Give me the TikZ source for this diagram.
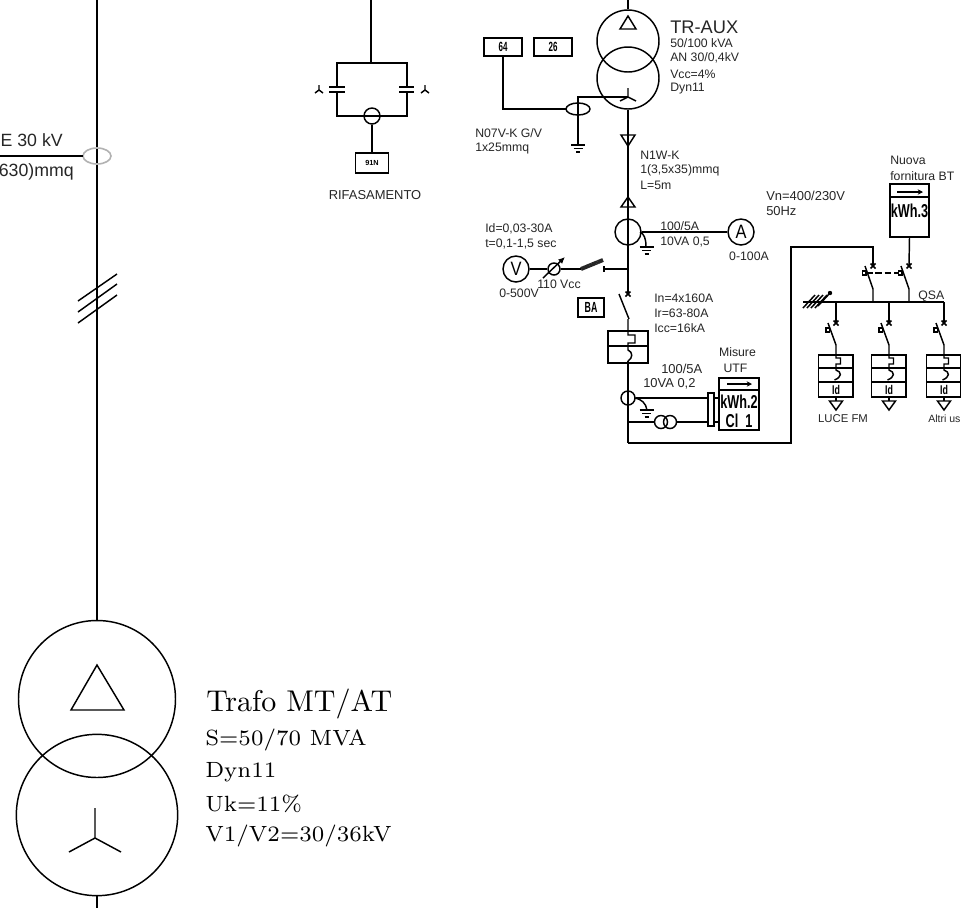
\documentclass[tikz,border=0pt]{standalone}
\usepackage{fontspec}
\usepackage{graphicx}
\newfontfamily\ars{Liberation Sans}
\usetikzlibrary{arrows.meta}
\tikzset{
  ln/.style={draw=black,line width=1.1pt},
  lbl/.style={inner sep=0pt,anchor=west,text=black!85,font=\ars\fontsize{9.2}{11}\selectfont},
  lblc/.style={inner sep=0pt,anchor=center,text=black!85,font=\ars\fontsize{9.2}{11}\selectfont},
  lblb/.style={lbl,font=\ars\fontsize{9.7}{11}\selectfont},
  big/.style={inner sep=0pt,anchor=west,font=\ars\fontsize{13.3}{15}\selectfont,text=black!85},
  ser/.style={inner sep=0pt,anchor=west},
  relay/.style={inner sep=0pt,font=\ars\bfseries\fontsize{10}{11}\selectfont},
  meter/.style={inner sep=0pt,font=\ars\bfseries\fontsize{14}{16}\selectfont},
  xmark/.style={draw=black,line width=1.2pt},
  ring/.style={circle,draw,line width=1.1pt,inner sep=0pt},
  boxy/.style={draw,line width=1.1pt,inner sep=0pt},
}
\newcommand{\narrowtxt}[1]{\scalebox{0.6}[1]{#1}}
\newcommand{\widetxt}[1]{\scalebox{0.68}[1]{#1}}
\newcommand{\serbody}[1]{\scalebox{2.36}{\fontsize{7}{8}\selectfont #1}}
\newcommand{\sertitle}[1]{\scalebox{2.25}{\fontsize{10}{12}\selectfont #1}}
\newcommand{\gnd}[2]{%
  \draw[ln] (#1-7,#2) -- (#1+7,#2);
  \draw[ln] (#1-4.5,#2+3.5) -- (#1+4.5,#2+3.5);
  \draw[ln] (#1-2,#2+7) -- (#1+2,#2+7);
}
\newcommand{\branch}[2]{%
  \coordinate (#2top) at (#1,302);
  \coordinate (#2cr) at (#1,323);
  \coordinate (#2bl) at (#1-8,323);
  \coordinate (#2mid) at (#1,345);
  \draw[ln] (#2top) -- (#2cr);
  \draw[xmark] (#1-2.5,320.5) -- (#1+2.5,325.5) (#1+2.5,320.5) -- (#1-2.5,325.5);
  \draw[ln] (#2bl) -- (#2mid) -- (#1,358) -- (#1+4.5,358) -- (#1+4.5,364) -- (#1,364) -- (#1,370)
     .. controls (#1+6,372) and (#1+6,377) .. (#1-1.5,380);
  \draw[ln,fill=white] (#1-10,328) rectangle (#1-6.5,332);
  \draw[ln] (#1-17.5,355) rectangle (#1+17,397);
  \draw[ln] (#1-17.5,368) -- (#1+17,368) (#1-17.5,382) -- (#1+17,382);
  \node[relay,font=\ars\bfseries\fontsize{9.5}{10}\selectfont] (#2id) at (#1,390) {\scalebox{0.7}[1]{Id}};
  \draw[ln] (#1,397) -- (#1,401);
  \draw[ln] (#1-6.5,401) -- (#1+6.5,401) -- (#1,410) -- cycle;
}
\begin{document}
\begin{tikzpicture}[x=0.75pt,y=-0.75pt]
\useasboundingbox (0,0) rectangle (961,908);
\clip (0,0) rectangle (961,908);
\fill[white] (0,0) rectangle (961,908);

% ===== main MT/AT column
\node[ring,minimum size=117.75pt] (T1) at (97,699) {};
\node[ring,minimum size=121pt] (T2) at (97,815) {};
\coordinate (topL) at (97,0);
\coordinate (botL) at (97,908);
\draw[ln] (topL) -- (T1.north);
\draw[ln] (T2.south) -- (botL);
\draw[ln] (97,665) -- (71,710) -- (124,710) -- cycle;
\draw[ln] (95,838) -- (95,808) (95,838) -- (69,852) (95,838) -- (121,852);
\draw[draw=black!30,line width=1.2pt] (97,156) ellipse (14 and 8);
\coordinate (cabL) at (0,156);
\draw[ln] (cabL) -- (83,156);
\node[big,anchor=east] (c1) at (63,140) {E 30 kV};
\node[big,anchor=east] (c2) at (74,172) {630)mmq};
\draw[ln] (78,301) -- (117,274) (78,312) -- (117,284) (78,323) -- (117,295);

\node[ser] (t1) at (206,704) {\sertitle{Trafo MT/AT}};
\node[ser] (t2) at (205,740) {\serbody{S=50/70 MVA}};
\node[ser] (t3) at (205,772) {\serbody{Dyn11}};
\node[ser] (t4) at (205,804) {\serbody{Uk=11\%}};
\node[ser] (t5) at (205,836) {\serbody{V1/V2=30/36kV}};

% ===== Rifasamento
\coordinate (rt) at (371,0);
\coordinate (rj) at (371,63);
\draw[ln] (rt) -- (rj);
\draw[ln] (337,87) -- (337,63) -- (407,63) -- (407,87);
\draw[ln] (337,92) -- (337,116) -- (364,116);
\draw[ln] (407,92) -- (407,116) -- (380,116);
\draw[ln] (329,87) -- (345,87) (329,92) -- (345,92);
\draw[ln] (399,87) -- (414,87) (399,92) -- (414,92);
\node[ring,minimum size=12pt] (rc) at (372,116) {};
\draw[ln] (rc.west) -- (rc.east);
\node[boxy,minimum width=24.75pt,minimum height=15pt,relay,font=\ars\bfseries\fontsize{5.5}{6}\selectfont] (n91) at (372,163) {91N};
\draw[ln] (rc.south) -- (n91.north);
\draw[ln] (319,85) -- (319,90) -- (315,93) (319,90) -- (323,93);
\draw[ln] (425,85) -- (425,90) -- (421,93) (425,90) -- (429,93);
\node[lblc,font=\ars\fontsize{9.7}{11}\selectfont] (rif) at (375,195) {RIFASAMENTO};

% ===== TR-AUX
\node[ring,minimum size=46.5pt] (A1) at (628,41) {};
\node[ring,minimum size=46.5pt] (A2) at (628,78) {};
\coordinate (at) at (628,0);
\draw[ln] (at) -- (A1.north);
\draw[ln] (628,16) -- (620,29) -- (636,29) -- cycle;
\coordinate (star) at (628,97);
\draw[ln] (628,88) -- (star) (620,101) -- (star) -- (636,101);
\draw[ln] (star) -- (578,97) -- (578,145);
\gnd{578}{145}
\draw[ln] (578,109) ellipse (12 and 6);
\node[boxy,minimum width=28.5pt,minimum height=13.5pt,relay] (r64) at (503,47) {\narrowtxt{64}};
\node[boxy,minimum width=28.5pt,minimum height=13.5pt,relay] (r26) at (553,47) {\narrowtxt{26}};
\draw[ln] (r64.south) -- (503,109) -- (566,109);
\node[big,font=\ars\fontsize{13.7}{15}\selectfont] (tra) at (670,27) {TR-AUX};
\node[lbl] at (670,43) {50/100 kVA};
\node[lbl] at (670,58) {AN 30/0,4kV};
\node[lbl] at (670,74) {Vcc=4\%};
\node[lbl] at (670,89) {Dyn11};
\node[lbl] at (475,133) {N07V-K G/V};
\node[lbl] at (475,148) {1x25mmq};
\node[lbl] at (640,155) {N1W-K};
\node[lbl] at (640,170) {1(3,5x35)mmq};
\node[lbl] at (640,185) {L=5m};

% main vertical
\draw[ln] (A2.south) -- (628,294);
\draw[ln] (621,135) -- (635,135) -- (628,146) -- cycle;
\draw[ln] (621,207) -- (635,207) -- (628,197) -- cycle;

% CT 1
\node[ring,minimum size=19.5pt] (ct1) at (628,232) {};
\node[ring,minimum size=19.5pt,font=\ars\fontsize{14.5}{15}\selectfont] (amp) at (741,232) {\scalebox{0.85}[1]{A}};
\draw[ln] (ct1.east) -- (amp.west);
\draw[ln] (640,232) .. controls (644,234) and (646,238) .. (646,247);
\gnd{646.5}{247}
\node[lbl] at (660,226) {100/5A};
\node[lbl] at (660,242) {10VA 0,5};
\node[lblc] at (749,256) {0-100A};

% voltmeter branch
\node[ring,minimum size=19.5pt,font=\ars\fontsize{14.5}{15}\selectfont] (vm) at (516,269) {\scalebox{0.85}[1]{V}};
\node[ring,minimum size=9pt] (sw) at (554,269) {};
\draw[ln] (vm.east) -- (sw.west);
\draw[ln] (sw.east) -- (581,269);
\draw[line width=1.1pt,-{Latex[length=5pt,width=4.5pt]}] (543,278) -- (565,257);
\draw[line width=3pt,draw=black!85,dash pattern=on 1.5pt off .25pt] (581,269) -- (603,260);
\draw[ln] (604,266) -- (604,272);
\draw[ln] (604,269) -- (628,269);
\node[lbl] at (485,229) {Id=0,03-30A};
\node[lbl] at (485,244) {t=0,1-1,5 sec};
\node[lbl] at (499,293) {0-500V};
\node[lbl] at (537,284) {110 Vcc};

% breaker
\draw[xmark] (625.5,291.5) -- (630.5,296.5) (630.5,291.5) -- (625.5,296.5);
\draw[ln] (619,294) -- (629,319);
\node[boxy,minimum width=19.5pt,minimum height=14.25pt,relay,font=\ars\bfseries\fontsize{11}{12}\selectfont] (ba) at (591,307.5) {\narrowtxt{BA}};
\draw[ln] (608,331) rectangle (648,363);
\draw[ln] (608,346) -- (648,346);
\draw[ln] (628,319) -- (628,335) -- (635,335) -- (635,343) -- (628,343) -- (628,350)
   .. controls (633,352) and (633,358) .. (628,361);
\coordinate (mainb) at (628,443);
\draw[ln] (628,361) -- (mainb);
\node[lbl] at (654,298) {In=4x160A};
\node[lbl] at (654,313) {Ir=63-80A};
\node[lbl] at (654,328) {Icc=16kA};

% CT 2 + meter
\node[ring,minimum size=10.5pt] (ct2) at (628,398) {};
\node[boxy,minimum width=4.5pt,minimum height=24.75pt] (tb) at (711,409.5) {};
\node[boxy,minimum width=30pt,minimum height=39pt] (m2) at (739,404) {};
\draw[ln] (ct2.east) -- (708,398) (714,398) -- (719,398);
\draw[ln] (635,398) .. controls (641,399) and (646,403) .. (647,410);
\gnd{646.5}{410}
\node[ring,minimum size=9.75pt] (v1) at (661,422) {};
\node[ring,minimum size=9.75pt] (v2) at (670,422) {};
\draw[ln] (628,422) -- (v1.west);
\draw[ln] (v2.east) -- (708,422) (714,422) -- (719,422);
\draw[ln] (719,390) -- (759,390);
\draw[line width=1.1pt,-{Stealth[length=4pt,width=4pt]}] (727,384) -- (752,384);
\node[meter] at (739,402) {\widetxt{kWh.2}};
\node[meter] at (739,421) {\widetxt{Cl\ \ 1}};
\node[lblc] at (737.5,352) {Misure};
\node[lblc] at (735.5,368) {UTF};
\node[lblb] at (661,369) {100/5A};
\node[lblb] at (643,384) {10VA 0,2};

% link to QSA
\draw[ln] (mainb) -- (791,443) -- (791,247) -- (873,247) -- (873,266);

% Nuova fornitura
\node[boxy,minimum width=29.25pt,minimum height=39.75pt] (m3) at (909.5,210.5) {};
\draw[ln] (890,197) -- (929,197);
\draw[line width=1.1pt,-{Stealth[length=4pt,width=4pt]}] (897,192) -- (923,192);
\node[meter] at (909.5,211) {\widetxt{kWh.3}};
\draw[ln] (m3.south) -- (909,266);
\node[lbl] at (890,160) {Nuova};
\node[lbl] at (890,176) {fornitura BT};
\node[lblb] at (766,196) {Vn=400/230V};
\node[lblb] at (766,211) {50Hz};

% disconnectors
\draw[xmark] (870.5,263.5) -- (875.5,268.5) (875.5,263.5) -- (870.5,268.5);
\draw[xmark] (906.5,263.5) -- (911.5,268.5) (911.5,263.5) -- (906.5,268.5);
\draw[ln] (865,266) -- (873,289) -- (873,302);
\draw[ln] (901,266) -- (909,289) -- (909,302);
\draw[ln,fill=white] (862.5,271) rectangle (866,275);
\draw[ln,fill=white] (898.5,271) rectangle (902,275);
\draw[ln,dash pattern=on 5pt off 2pt] (866,273) -- (898.5,273);

% bus
\draw[ln] (803,302) -- (944,302);
\foreach \i in {0,4,8,12}
  \draw[ln] (803+\i,308) -- (815+\i,295);
\draw[ln] (818,306) -- (830,293);
\fill (830,293) circle (2.2);
\node[lbl] at (918,296) {QSA};

% branches
\branch{836}{ba}
\branch{889}{bb}
\branch{944}{bc}
\node[lblc,font=\ars\fontsize{8.5}{10}\selectfont] at (843,419) {LUCE FM};
\node[lbl,font=\ars\fontsize{7.9}{10}\selectfont] at (928,419) {Altri us};
\end{tikzpicture}
\end{document}
